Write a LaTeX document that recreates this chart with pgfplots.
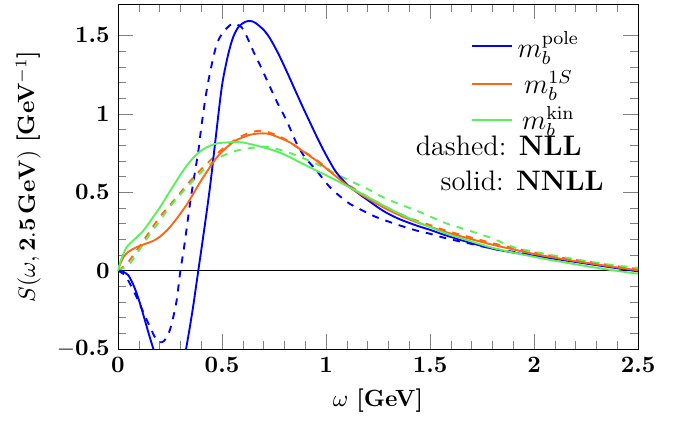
\documentclass[border=0pt]{standalone}
\usepackage{pgfplots}
\pgfplotsset{compat=1.18}
\definecolor{cblue}{RGB}{0,0,245}
\definecolor{corange}{RGB}{255,102,20}
\definecolor{cgreen}{RGB}{90,240,90}

\begin{document}
\begin{tikzpicture}
\begin{axis}[
  scale only axis, width=221.3pt, height=146.8pt,
  xmin=0, xmax=2.5, ymin=-0.5, ymax=1.7,
  xtick={0,0.5,1,1.5,2,2.5},
  xticklabels={\textbf{0},\textbf{0.5},\textbf{1},\textbf{1.5},\textbf{2},\textbf{2.5}},
  ytick={-0.5,0,0.5,1,1.5},
  yticklabels={\textbf{$-$0.5},\textbf{0},\textbf{0.5},\textbf{1},\textbf{1.5}},
  minor x tick num=4, minor y tick num=4,
  tick align=inside,
  major tick length=6.5pt, minor tick length=3.5pt,
  xlabel={$\omega$ \textbf{[GeV]}},
  ylabel={$S(\omega,\mathbf{2.5\,GeV})$ \textbf{[GeV$^{-1}$]}},
  legend style={draw=none, fill=none, at={(0.91,0.95)}, anchor=north east},
]
\addplot[black, forget plot] coordinates {(0,0) (2.5,0)};
\addplot[cblue, thick, smooth, dashed, forget plot] coordinates {
(0,0) (0.034,-0.03) (0.06,-0.09) (0.09,-0.17) (0.12,-0.26) (0.154,-0.36)
(0.18,-0.43) (0.2,-0.457) (0.22,-0.45) (0.24,-0.41) (0.258,-0.34) (0.282,-0.19)
(0.298,-0.02) (0.32,0.17) (0.346,0.425) (0.37,0.63) (0.386,0.76) (0.402,0.93)
(0.426,1.146) (0.45,1.31) (0.474,1.44) (0.5,1.51) (0.538,1.565) (0.56,1.575)
(0.595,1.55) (0.62,1.49) (0.65,1.40) (0.69,1.29) (0.731,1.17) (0.77,1.06)
(0.811,0.955) (0.859,0.81) (0.9,0.72) (0.955,0.637) (1.0,0.56) (1.035,0.51)
(1.08,0.46) (1.115,0.425) (1.18,0.38) (1.244,0.34) (1.35,0.29) (1.436,0.255)
(1.5,0.235) (1.58,0.205) (1.7,0.17) (1.8,0.14) (1.9,0.12) (2.0,0.1)
(2.1,0.08) (2.2,0.06) (2.3,0.04) (2.4,0.02) (2.5,0.0)};
\addplot[corange, thick, smooth, dashed, forget plot] coordinates {
(0,0) (0.042,0.043) (0.08,0.11) (0.122,0.19) (0.16,0.265) (0.2,0.34)
(0.24,0.405) (0.282,0.467) (0.33,0.545) (0.378,0.616) (0.43,0.685) (0.474,0.743)
(0.52,0.795) (0.57,0.84) (0.62,0.873) (0.667,0.89) (0.7,0.89) (0.74,0.875)
(0.8,0.84) (0.87,0.78) (0.955,0.705) (1.03,0.625) (1.115,0.54) (1.2,0.47)
(1.276,0.415) (1.35,0.365) (1.436,0.318) (1.5,0.29) (1.58,0.253) (1.7,0.21)
(1.8,0.175) (1.9,0.145) (2.0,0.116) (2.1,0.09) (2.2,0.068) (2.3,0.048)
(2.4,0.028) (2.5,0.01)};
\addplot[cgreen, thick, smooth, dashed, forget plot] coordinates {
(0,0) (0.03,0.02) (0.06,0.05) (0.09,0.106) (0.154,0.234) (0.2,0.315)
(0.234,0.38) (0.28,0.455) (0.33,0.53) (0.38,0.6) (0.426,0.66) (0.474,0.71)
(0.522,0.743) (0.57,0.765) (0.619,0.778) (0.67,0.787) (0.715,0.79) (0.795,0.764)
(0.875,0.725) (0.955,0.68) (1.035,0.625) (1.115,0.573) (1.2,0.52) (1.276,0.467)
(1.35,0.425) (1.436,0.382) (1.5,0.345) (1.58,0.3) (1.7,0.25) (1.8,0.205)
(1.9,0.15) (2.0,0.12) (2.1,0.095) (2.2,0.072) (2.3,0.05) (2.4,0.032) (2.5,0.017)};
\addplot[cblue, thick, smooth] coordinates {
(0,0) (0.02,-0.005) (0.05,-0.03) (0.08,-0.11) (0.106,-0.21) (0.13,-0.32)
(0.154,-0.43) (0.175,-0.52) (0.2,-0.63) (0.24,-0.74) (0.28,-0.72) (0.31,-0.62)
(0.33,-0.48) (0.36,-0.24) (0.386,0) (0.41,0.22) (0.442,0.53) (0.47,0.85)
(0.5,1.18) (0.53,1.38) (0.554,1.49) (0.58,1.555) (0.61,1.585) (0.635,1.592)
(0.66,1.58) (0.7,1.535) (0.731,1.48) (0.77,1.385) (0.811,1.27) (0.85,1.155)
(0.891,1.035) (0.93,0.925) (0.955,0.855) (0.987,0.77) (1.02,0.69) (1.05,0.625)
(1.1,0.55) (1.148,0.50) (1.2,0.45) (1.276,0.38) (1.35,0.33) (1.436,0.287)
(1.5,0.26) (1.58,0.223) (1.7,0.175) (1.8,0.14) (1.9,0.115) (2.0,0.095)
(2.1,0.075) (2.2,0.055) (2.3,0.035) (2.4,0.015) (2.5,-0.005)};
\addlegendentry{\large $m_b^{\mathrm{pole}}$}
\addplot[corange, thick, smooth] coordinates {
(0,0) (0.01,0.04) (0.026,0.085) (0.05,0.12) (0.09,0.15) (0.13,0.17)
(0.17,0.19) (0.2,0.215) (0.234,0.255) (0.27,0.31) (0.298,0.36) (0.33,0.42)
(0.362,0.49) (0.4,0.575) (0.442,0.66) (0.48,0.73) (0.522,0.785) (0.56,0.825)
(0.6,0.85) (0.635,0.866) (0.667,0.873) (0.7,0.875) (0.731,0.87) (0.78,0.845)
(0.827,0.817) (0.89,0.76) (0.955,0.70) (1.03,0.62) (1.115,0.53) (1.2,0.46)
(1.276,0.403) (1.35,0.355) (1.436,0.308) (1.5,0.28) (1.58,0.244) (1.7,0.2)
(1.8,0.165) (1.9,0.135) (2.0,0.106) (2.1,0.082) (2.2,0.06) (2.3,0.04)
(2.4,0.02) (2.5,0.002)};
\addlegendentry{\large $m_b^{1S}$}
\addplot[cgreen, thick, smooth] coordinates {
(0,0) (0.015,0.07) (0.042,0.15) (0.08,0.2) (0.122,0.255) (0.16,0.325)
(0.2,0.40) (0.24,0.485) (0.282,0.573) (0.32,0.65) (0.362,0.72) (0.4,0.765)
(0.442,0.796) (0.48,0.812) (0.522,0.817) (0.56,0.82) (0.6,0.817) (0.635,0.807)
(0.715,0.78) (0.795,0.743) (0.875,0.69) (0.955,0.637) (1.035,0.585) (1.115,0.53)
(1.2,0.47) (1.276,0.415) (1.35,0.365) (1.436,0.313) (1.5,0.278) (1.58,0.235)
(1.7,0.185) (1.8,0.145) (1.9,0.115) (2.0,0.088) (2.1,0.063) (2.2,0.04)
(2.3,0.018) (2.4,-0.002) (2.5,-0.02)};
\addlegendentry{\large $m_b^{\mathrm{kin}}$}
\end{axis}
\node[anchor=east, inner sep=0pt] at (197.5pt,86.5pt) {\large dashed: \textbf{NLL}};
\node[anchor=east, inner sep=0pt] at (206.9pt,71.6pt) {\large solid: \textbf{NNLL}};
\path (-50.2pt,-34.5pt) rectangle (238.7pt,148.5pt);
\end{tikzpicture}
\end{document}
